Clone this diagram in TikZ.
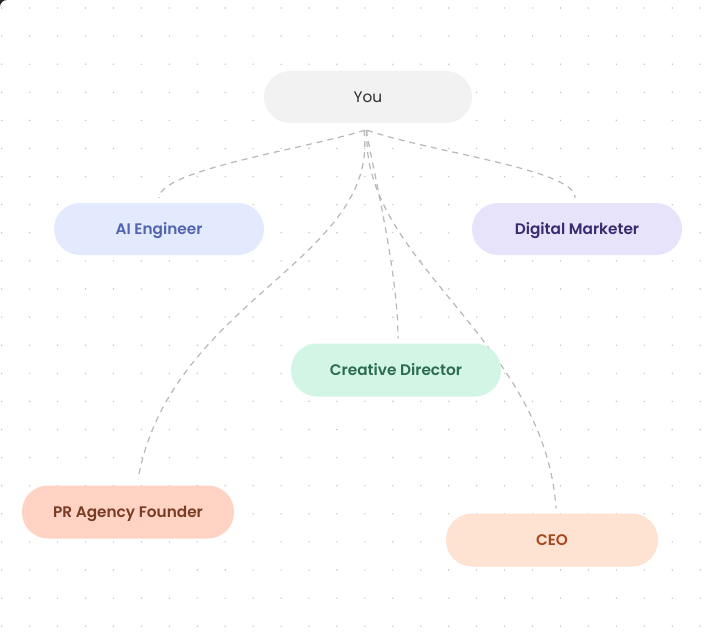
\documentclass[tikz,border=0pt]{standalone}
\usepackage{fontspec}
\setmainfont{Poppins}
\newfontfamily\labfont{Poppins SemiBold}
\definecolor{youfill}{HTML}{F2F2F2}
\definecolor{youtext}{HTML}{2E2E2E}
\definecolor{aifill}{HTML}{E3EAFD}
\definecolor{aitext}{HTML}{5263B0}
\definecolor{dmfill}{HTML}{E7E3FB}
\definecolor{dmtext}{HTML}{3A2A6E}
\definecolor{cdfill}{HTML}{D3F5E6}
\definecolor{cdtext}{HTML}{2B6B50}
\definecolor{prfill}{HTML}{FED3C3}
\definecolor{prtext}{HTML}{7A3B23}
\definecolor{ceofill}{HTML}{FEE3D2}
\definecolor{ceotext}{HTML}{A5461F}
\definecolor{linkgray}{HTML}{B8B8B8}
\definecolor{dotgray}{HTML}{C4C4C4}
\pgfdeclarelayer{bg}
\pgfsetlayers{bg,main}
\begin{document}
\begin{tikzpicture}[x=1pt,y=-1pt,
  pill/.style={draw=none, rounded corners=26pt, minimum width=210pt,
    minimum height=52pt, inner sep=0pt, text height=10.8pt, text depth=0pt,
    font=\labfont\fontsize{15.3}{18}\selectfont},
  youpill/.style={pill, minimum width=208pt, font=\fontsize{15.3}{18}\selectfont},
  link/.style={draw=linkgray, line width=1.2pt, dash pattern=on 6pt off 5pt}]
\useasboundingbox (0,0) rectangle (706,643);
% nodes
\node[youpill, fill=youfill, text=youtext] (you) at (368,97) {You};
\node[pill, fill=aifill, text=aitext] (ai) at (159,229) {AI Engineer};
\node[pill, fill=dmfill, text=dmtext] (dm) at (577,229) {Digital Marketer};
\node[pill, fill=cdfill, text=cdtext, minimum height=53pt] (cd) at (396,370) {Creative Director};
\node[pill, fill=prfill, text=prtext, minimum width=212pt, minimum height=53pt] (pr) at (128,512) {PR Agency Founder};
\node[pill, fill=ceofill, text=ceotext, minimum width=212pt, minimum height=53pt] (ceo) at (552,540) {CEO};
\begin{pgfonlayer}{bg}
  \fill[white] (0,0) rectangle (706,643);
  \fill[black!85] (0,0) -- (7,0) .. controls (3.1,0) and (0,3.1) .. (0,7) -- cycle;
  \foreach \i in {0,...,25}
    \foreach \j in {0,...,22}
      \fill[dotgray] ({1.7+27.94*\i},{8+28.1*\j}) circle[radius=0.8];
  \draw[link] ([xshift=-3pt,yshift=-7pt]you.south) .. controls (300,150) and (160,170) .. ([yshift=5pt]ai.north);
  \draw[link] ([xshift=-1pt,yshift=-7pt]you.south) .. controls (430,152) and (577,170) .. ([xshift=-2pt,yshift=5pt]dm.north);
  \draw[link] ([xshift=-2pt,yshift=-7pt]you.south) .. controls (380,200) and (398,280) .. ([xshift=2pt,yshift=5pt]cd.north);
  \draw[link] ([xshift=-4pt,yshift=-7pt]you.south) .. controls (380,260) and (170,300) .. ([xshift=10pt,yshift=6pt]pr.north);
  \draw[link] ([xshift=-1pt,yshift=-7pt]you.south) .. controls (360,260) and (545,340) .. ([xshift=4pt,yshift=5pt]ceo.north);
\end{pgfonlayer}
\end{tikzpicture}
\end{document}
